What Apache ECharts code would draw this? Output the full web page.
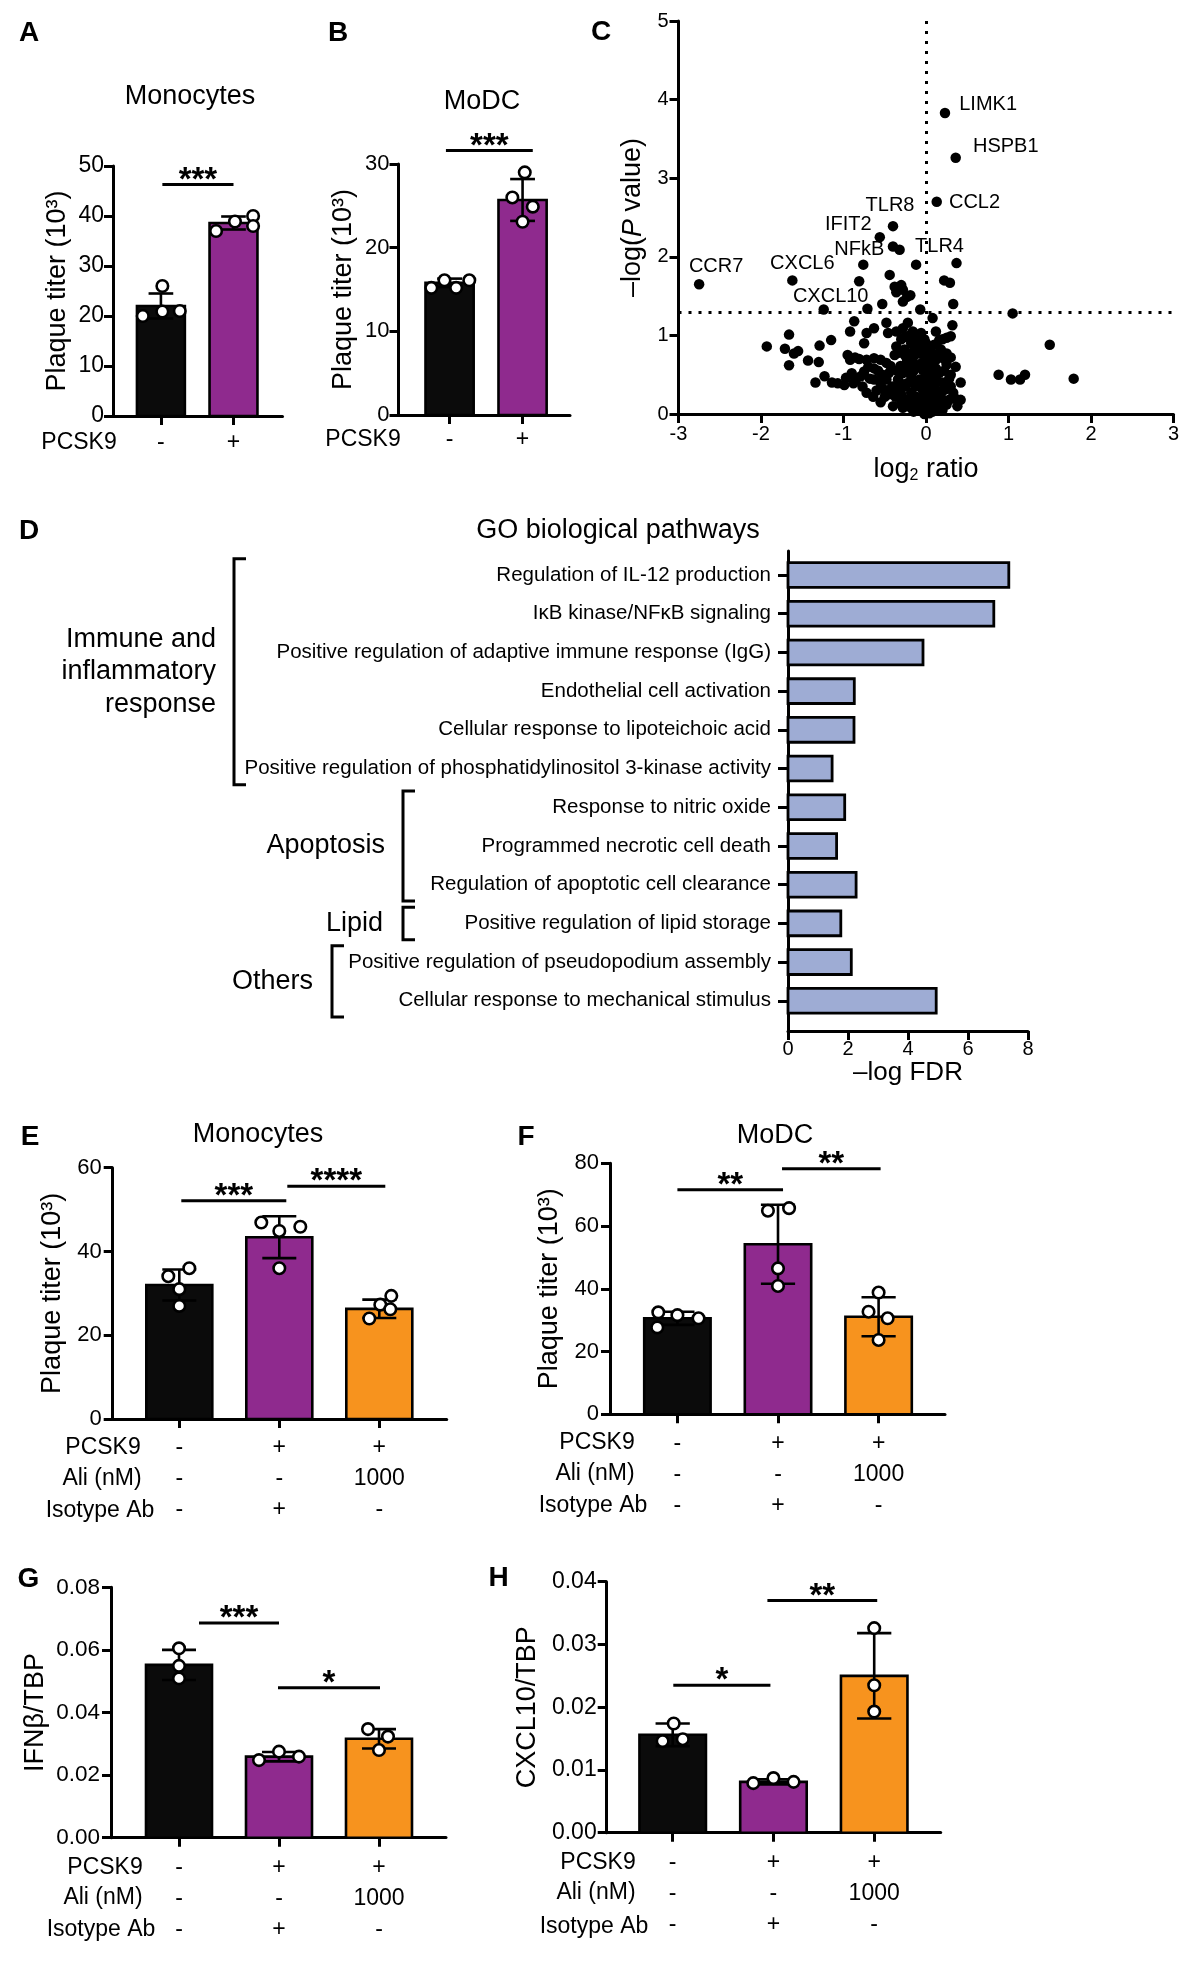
<!DOCTYPE html>
<html><head><meta charset="utf-8">
<script src="https://cdn.jsdelivr.net/npm/echarts@6/dist/echarts.min.js"></script>
<style>html,body{margin:0;padding:0;background:#fff}#c{width:1200px;height:1965px}</style>
</head><body><div id="c"></div>
<script>
// ================= DATA =================
// Row labels under the bar panels
const AB_PCSK9 = ['-', '+'];
const ROW_PCSK9 = ['-', '+', '+'];
const ROW_ALI = ['-', '-', '1000'];
const ROW_ISO = ['-', '+', '-'];

// Panel A - Monocytes plaque titer (10^3)
const A_means = [22.0, 38.6];
const A_sd = [2.5, 1.3];
const A_reps = [[20.0, 26.0, 20.9, 21.0], [37.0, 38.9, 40.0, 38.0]];
const A_sig = [[0.02, 1.0, 46.3, '***']];

// Panel B - MoDC plaque titer (10^3)
const B_means = [15.8, 25.7];
const B_sd = [0.5, 2.5];
const B_reps = [[15.2, 16.1, 15.2, 16.1], [29.0, 26.0, 24.9, 23.1]];
const B_sig = [[-0.05, 1.14, 31.6, '***']];

// Panel C - volcano plot (log2 ratio, -log P)
const C_log2 = [-0.40,-0.32,-0.12,-0.81,-0.44,-0.38,-0.30,-0.36,-0.28,-0.23,-0.28,-0.19,-0.53,-0.71,-0.07,0.22,0.29,0.33,
 1.05,0.08,0.32,-0.87,-0.92,-0.63,-0.72,-0.75,-0.48,-0.46,-0.36,-0.28,-0.22,-0.16,-0.06,0.12,0.16,0.25,0.30,-1.66,-1.93,-1.71,-1.55,-1.60,-1.29,-1.15,-1.66,-1.43,-1.30,-1.34,-1.23,-1.14,-1.07,-0.99,-0.88,-0.85,-0.86,-0.81,-0.72,-0.63,-0.55,-0.48,-0.38,-0.43,-0.75,-0.63,-0.53,-0.63,-0.72,-0.64,-0.50,-0.37,-0.77,-0.41,-0.34,-0.28,-0.36,-0.26,-0.18,-0.13,-0.08,-0.16,-0.23,-0.31,-0.21,-0.11,-0.04,-0.18,-0.08,-0.23,-0.13,-0.04,-0.18,-0.08,-0.01,-0.23,-0.28,-0.18,-0.08,-0.04,0.02,0.06,0.11,0.18,0.06,0.11,0.03,0.08,0.16,0.25,0.12,0.08,0.18,0.25,0.03,-0.01,0.23,0.33,0.35,0.42,0.42,0.28,0.18,0.88,1.03,1.14,1.20,1.50,1.79,-0.92,-0.90,-0.97,-0.79,-0.55,-0.48,-0.43,-0.34,
 -0.12,-0.02,0.05,-0.15,0.00,-0.10,-0.30,0.10,-0.26,0.14,-0.06,0.20,-0.20,0.30,0.36,
 -0.30,-0.20,-0.10,0.00,0.10,0.20,-0.33,-0.25,-0.15,-0.05,0.05,0.15,0.22,0.30,-0.35,-0.27,-0.15,-0.05,0.05,0.12,0.22,0.28,
 -0.32,-0.25,-0.15,-0.05,0.03,0.12,0.20,0.30,-0.30,-0.20,-0.12,-0.02,0.05,0.15,0.25,0.38,-0.10,0.00,0.04,-0.02,0.08,-0.15,0.12,0.20,
 -0.95,-0.70,-0.58,-0.45,-0.68,-0.52,-0.60,-0.45,-0.55,-0.40];
const C_logP = [2.13,2.09,1.90,1.69,1.77,1.62,1.64,1.55,1.58,1.49,1.43,1.51,1.40,1.34,1.33,1.70,1.67,1.40,
 1.28,1.22,1.13,1.18,1.05,1.09,1.03,0.90,1.16,1.03,1.05,1.09,1.16,1.05,1.03,1.05,0.94,0.97,0.99,1.01,0.86,0.83,0.80,0.77,0.87,0.94,0.62,0.68,0.66,0.40,0.48,0.40,0.39,0.37,0.39,0.44,0.72,0.70,0.69,0.71,0.69,0.65,0.75,0.61,0.54,0.58,0.50,0.44,0.27,0.22,0.22,0.22,0.35,0.35,0.44,0.52,0.86,0.82,0.90,0.86,0.77,0.71,0.67,0.61,0.56,0.61,0.56,0.48,0.44,0.39,0.35,0.31,0.27,0.20,0.14,0.18,0.08,0.08,0.06,0.03,0.02,0.08,0.12,0.09,0.18,0.27,0.35,0.44,0.52,0.63,0.69,0.77,0.82,0.77,0.84,0.73,0.31,0.27,0.20,0.18,0.40,0.18,0.22,0.50,0.44,0.44,0.50,0.88,0.45,0.69,0.52,0.46,0.48,0.39,0.44,0.31,0.31,
 0.95,0.95,0.60,0.15,0.50,0.62,0.25,0.35,0.98,0.10,0.10,0.40,0.62,0.50,0.60,
 0.95,1.00,0.92,0.90,0.88,0.95,0.78,0.74,0.80,0.82,0.70,0.75,0.70,0.72,0.55,0.60,0.55,0.65,0.52,0.58,0.55,0.45,
 0.40,0.35,0.42,0.38,0.42,0.45,0.30,0.35,0.15,0.12,0.22,0.25,0.28,0.18,0.12,0.10,0.04,0.06,0.01,0.00,0.03,0.03,0.05,0.05,
 0.75,0.60,0.55,0.52,0.45,0.32,0.30,0.25,0.15,0.10];
const C_genes = ['LIMK1','HSPB1','CCL2','TLR8','IFIT2','NFkB','TLR4','CCR7','CXCL6','CXCL10'];
const C_geneX = [0.23, 0.36, 0.13, -0.40, -0.56, -0.76, 0.37, -2.75, -1.62, -1.24];
const C_geneY = [3.83, 3.26, 2.70, 2.39, 2.25, 1.90, 1.92, 1.65, 1.70, 1.33];
const C_P_THRESHOLD = 1.3;

// Panel D - GO biological pathways
const D_pathways = ['Regulation of IL-12 production','IκB kinase/NFκB signaling','Positive regulation of adaptive immune response (IgG)','Endothelial cell activation','Cellular response to lipoteichoic acid','Positive regulation of phosphatidylinositol 3-kinase activity','Response to nitric oxide','Programmed necrotic cell death','Regulation of apoptotic cell clearance','Positive regulation of lipid storage','Positive regulation of pseudopodium assembly','Cellular response to mechanical stimulus'];
const D_logFDR = [7.36, 6.86, 4.50, 2.21, 2.20, 1.47, 1.89, 1.62, 2.27, 1.76, 2.11, 4.94];
const D_groupNames = ['Immune and\ninflammatory\nresponse', 'Apoptosis', 'Lipid', 'Others'];
const D_groupFrom = [0, 6, 9, 10];
const D_groupTo = [5, 8, 9, 11];

// Panel E - Monocytes
const E_means = [32.0, 43.4, 26.3];
const E_sd = [3.7, 5.0, 2.2];
const E_reps = [[34.1, 36.0, 31.0, 27.0], [46.9, 45.9, 44.9, 36.0], [24.0, 27.3, 29.4, 26.2]];
const E_sig = [[0.02, 1.07, 52.1, '***'], [1.08, 2.06, 55.6, '****']];

// Panel F - MoDC
const F_means = [30.6, 54.2, 31.1];
const F_sd = [2.1, 12.6, 6.2];
const F_reps = [[32.5, 31.6, 30.6, 27.7], [64.9, 65.7, 46.5, 40.9], [38.8, 32.7, 30.6, 23.7]];
const F_sig = [[0.0, 1.05, 71.6, '**'], [1.04, 2.02, 78.3, '**']];

// Panel G - IFNb/TBP
const G_means = [0.0552, 0.0259, 0.0316];
const G_sd = [0.0048, 0.0015, 0.0031];
const G_reps = [[0.0605, 0.0549, 0.0509], [0.0248, 0.0275, 0.0259], [0.0347, 0.0323, 0.0280]];
const G_sig = [[0.2, 1.0, 0.0686, '***'], [0.99, 2.01, 0.0479, '*']];

// Panel H - CXCL10/TBP
const H_means = [0.0156, 0.0081, 0.0250];
const H_sd = [0.0018, 0.0004, 0.0068];
const H_reps = [[0.0174, 0.0146, 0.0149], [0.0079, 0.0087, 0.0081], [0.0326, 0.0235, 0.0193]];
const H_sig = [[0.006, 0.97, 0.0235, '*'], [0.94, 2.03, 0.0370, '**']];

// ================= LAYOUT / STYLE =================
const FF = "'Liberation Sans', Arial, Helvetica, sans-serif";
const COLORS = ['#0b0b0b', '#8f2a8e', '#f7931e'];
const D_COLOR = '#9eacd4';
const JIT = {
  A: [[-0.25, 0.02, 0.02, 0.26], [-0.24, 0.02, 0.27, 0.27]],
  B: [[-0.25, -0.07, 0.09, 0.27], [0.03, -0.14, 0.14, 0]],
  E: [[-0.11, 0.10, 0, 0], [-0.18, 0.21, 0, 0], [-0.1, 0.01, 0.12, 0.11]],
  F: [[-0.19, 0, 0.21, -0.2], [-0.1, 0.11, 0, 0], [0, -0.1, 0.09, 0]],
  G: [[0, 0, 0], [-0.2, 0, 0.2], [-0.11, 0.09, 0]],
  H: [[0.01, -0.1, 0.1], [-0.2, 0, 0.2], [0, 0, 0]]
};
const C_LABEL_POS = {LIMK1:['right',[4,-8]], HSPB1:['right',[7,-11]], CCL2:['right',[2,1]], TLR8:['top',[-3,0]], IFIT2:['left',[2,-13]], NFkB:['top',[-4,5]], TLR4:['top',[-17,4]], CCR7:['top',[17,2]], CXCL6:['top',[10,3]], CXCL10:['top',[7,7]]};
const D_BRACKET_X = [234, 403, 403, 332];
const D_LABEL_RIGHT = [216, 385, 383, 313];

const GRIDS = [
  {left:113, top:166, width:169.5, height:250},      // A
  {left:398.5, top:164, width:171.5, height:251},    // B
  {left:678.5, top:21, width:495, height:393},       // C
  {left:788, top:551, width:240, height:480},        // D
  {left:112.7, top:1167.7, width:334, height:251.3}, // E
  {left:610, top:1163.3, width:335, height:251},     // F
  {left:111, top:1587.3, width:335, height:250.4},   // G
  {left:606.7, top:1581.7, width:334, height:251}    // H
].map(g => Object.assign({containLabel:false, outerBoundsMode:'none'}, g));

const AXLINE = {show:true, onZero:false, lineStyle:{color:'#000', width:3}};
const AXTICK = (len) => ({show:true, length:len, lineStyle:{color:'#000', width:3}});

function idx(n){ return Array.from({length:n}, (_, i) => i); }

function barX(gi, min, max, n, rows, margin){
  return {gridIndex:gi, type:'value', min, max, position:'bottom',
    axisLine:AXLINE, splitLine:{show:false},
    axisTick:Object.assign(AXTICK(9), {customValues:idx(n)}),
    axisLabel:{show:true, customValues:idx(n), margin, fontSize:23, lineHeight:31, color:'#000', fontFamily:FF,
      formatter:(v) => rows.map(r => r[Math.round(v)]).join('\n')}};
}
function barY(gi, max, interval, fs, name, gap, margin, fmt){
  return {gridIndex:gi, type:'value', min:0, max, interval, position:'left',
    axisLine:AXLINE, axisTick:AXTICK(9), splitLine:{show:false},
    axisLabel:{fontSize:fs, color:'#000', fontFamily:FF, margin, formatter: fmt || (v => String(v))},
    name, nameLocation:'middle', nameRotate:90, nameGap:gap,
    nameTextStyle:{fontSize:27, color:'#000', fontFamily:FF}};
}

function barSeries(gi, means, sds, reps, jit, sig){
  const HW = 0.33, CAP = 0.17;
  const dots = [];
  reps.forEach((arr, i) => arr.forEach((v, j) => dots.push([i + jit[i][j], v])));
  return [
    {type:'custom', xAxisIndex:gi, yAxisIndex:gi, clip:false, silent:true,
      data: means.map((m, i) => [i, m]),
      renderItem:(p, api) => {
        const i = api.value(0), v = api.value(1);
        const a = api.coord([i - HW, v]), b = api.coord([i + HW, 0]);
        return {type:'rect', shape:{x:a[0], y:a[1], width:b[0]-a[0], height:b[1]-a[1]},
          style:{fill:COLORS[p.dataIndex], stroke:'#000', lineWidth:2.6}};
      }},
    {type:'custom', xAxisIndex:gi, yAxisIndex:gi, clip:false, silent:true,
      data: means.map((m, i) => [i, m, sds[i]]),
      renderItem:(p, api) => {
        const i = api.value(0), m = api.value(1), s = api.value(2);
        const t = api.coord([i, m + s]), bt = api.coord([i, m - s]);
        const tl = api.coord([i - CAP, m + s]), tr = api.coord([i + CAP, m + s]);
        const bl = api.coord([i - CAP, m - s]), br = api.coord([i + CAP, m - s]);
        const st = {stroke:'#000', lineWidth:2.6};
        return {type:'group', children:[
          {type:'line', shape:{x1:t[0], y1:t[1], x2:bt[0], y2:bt[1]}, style:st},
          {type:'line', shape:{x1:tl[0], y1:tl[1], x2:tr[0], y2:tr[1]}, style:st},
          {type:'line', shape:{x1:bl[0], y1:bl[1], x2:br[0], y2:br[1]}, style:st}
        ]};
      }},
    {type:'scatter', xAxisIndex:gi, yAxisIndex:gi, silent:true, data:dots, symbol:'circle', symbolSize:11.5,
      itemStyle:{color:'#fff', borderColor:'#000', borderWidth:2.6, opacity:1}},
    {type:'custom', xAxisIndex:gi, yAxisIndex:gi, clip:false, silent:true,
      data: sig.map(s => [s[0], s[2], s[1]]),
      renderItem:(p, api) => {
        const s = sig[p.dataIndex];
        const a = api.coord([s[0], s[2]]), b = api.coord([s[1], s[2]]);
        return {type:'group', children:[
          {type:'line', shape:{x1:a[0], y1:a[1], x2:b[0], y2:b[1]}, style:{stroke:'#000', lineWidth:3}},
          {type:'text', x:(a[0] + b[0]) / 2, y:a[1] - 4,
            style:{text:s[3], font:'bold 33px ' + FF, fill:'#000', align:'center', verticalAlign:'middle', textAlign:'center', textVerticalAlign:'middle'}}
        ]};
      }}
  ];
}

// ================= TEXT ITEMS (panel letters, titles, row headers) =================
const TEXTS = [
  ['A', 29, 33, 'bold 28px'], ['B', 338, 33, 'bold 28px'], ['C', 601, 32, 'bold 28px'], ['D', 29, 531, 'bold 28px'],
  ['E', 30, 1137, 'bold 28px'], ['F', 526, 1137, 'bold 28px'], ['G', 28.5, 1579, 'bold 28px'], ['H', 498.5, 1578, 'bold 28px'],
  ['Monocytes', 190, 97, '27px'], ['MoDC', 482, 102, '27px'], ['GO biological pathways', 618, 531, '27px'],
  ['Monocytes', 258, 1135, '27px'], ['MoDC', 775, 1136, '27px'],
  ['PCSK9', 79, 443, '23px'], ['PCSK9', 363, 440, '23px'],
  ['PCSK9', 103, 1448, '23px'], ['Ali (nM)', 102, 1479, '23px'], ['Isotype Ab', 100, 1511, '23px'],
  ['PCSK9', 597, 1443, '23px'], ['Ali (nM)', 595, 1474, '23px'], ['Isotype Ab', 593, 1506, '23px'],
  ['PCSK9', 105, 1868, '23px'], ['Ali (nM)', 103, 1898, '23px'], ['Isotype Ab', 101, 1930, '23px'],
  ['PCSK9', 598, 1863, '23px'], ['Ali (nM)', 596, 1893, '23px'], ['Isotype Ab', 594, 1927, '23px']
];

// ================= OPTION =================
const xAxis = [
  barX(0, -0.66, 1.675, 2, [AB_PCSK9], 11.5),
  barX(1, -0.70, 1.65, 2, [AB_PCSK9], 9.5),
  {gridIndex:2, type:'value', min:-3, max:3, interval:1, position:'bottom',
    axisLine:AXLINE, axisTick:AXTICK(9), splitLine:{show:false},
    axisLabel:{fontSize:20, color:'#000', fontFamily:FF, margin:10},
    name:'log{sub|2} ratio', nameLocation:'middle', nameGap:41,
    nameTextStyle:{fontSize:27, color:'#000', fontFamily:FF,
      rich:{sub:{fontSize:16, color:'#000', fontFamily:FF, verticalAlign:'bottom', padding:[13,0,0,0]}}}},
  {gridIndex:3, type:'value', min:0, max:8, interval:2, position:'bottom',
    axisLine:AXLINE, axisTick:AXTICK(9), splitLine:{show:false},
    axisLabel:{fontSize:20, color:'#000', fontFamily:FF, margin:8},
    name:'–log FDR', nameLocation:'middle', nameGap:29,
    nameTextStyle:{fontSize:26, color:'#000', fontFamily:FF}},
  barX(4, -0.666, 2.674, 3, [ROW_PCSK9, ROW_ALI, ROW_ISO], 13.5),
  barX(5, -0.67, 2.66, 3, [ROW_PCSK9, ROW_ALI, ROW_ISO], 13.5),
  barX(6, -0.68, 2.67, 3, [ROW_PCSK9, ROW_ALI, ROW_ISO], 14.5),
  barX(7, -0.655, 2.66, 3, [ROW_PCSK9, ROW_ALI, ROW_ISO], 14.5)
];
const yAxis = [
  barY(0, 50, 10, 23, 'Plaque titer (10³)', 42, 9),
  barY(1, 30, 10, 22, 'Plaque titer (10³)', 41, 9),
  {gridIndex:2, type:'value', min:0, max:5, interval:1, position:'left',
    axisLine:AXLINE, axisTick:AXTICK(9), splitLine:{show:false},
    axisLabel:{fontSize:20, color:'#000', fontFamily:FF, margin:10},
    name:'–log({it|P} value)', nameLocation:'middle', nameRotate:90, nameGap:32,
    nameTextStyle:{fontSize:27, color:'#000', fontFamily:FF,
      rich:{it:{fontSize:27, fontStyle:'italic', color:'#000', fontFamily:FF}}}},
  {gridIndex:3, type:'value', inverse:true, min:-0.62, max:11.78, position:'left',
    axisLine:AXLINE, splitLine:{show:false},
    axisTick:Object.assign(AXTICK(10), {customValues:idx(D_pathways.length)}),
    axisLabel:{customValues:idx(D_pathways.length), fontSize:20.5, color:'#000', fontFamily:FF, margin:17,
      formatter:(v) => D_pathways[Math.round(v)]}},
  barY(4, 60, 20, 22, 'Plaque titer (10³)', 47, 11),
  barY(5, 80, 20, 22, 'Plaque titer (10³)', 47, 11),
  barY(6, 0.08, 0.02, 22.5, 'IFNβ/TBP', 62, 11, v => v.toFixed(2)),
  barY(7, 0.04, 0.01, 23, 'CXCL10/TBP', 66, 10, v => v.toFixed(2))
];

const series = [].concat(
  barSeries(0, A_means, A_sd, A_reps, JIT.A, A_sig),
  barSeries(1, B_means, B_sd, B_reps, JIT.B, B_sig),
  barSeries(4, E_means, E_sd, E_reps, JIT.E, E_sig),
  barSeries(5, F_means, F_sd, F_reps, JIT.F, F_sig),
  barSeries(6, G_means, G_sd, G_reps, JIT.G, G_sig),
  barSeries(7, H_means, H_sd, H_reps, JIT.H, H_sig),
  [
    {type:'scatter', xAxisIndex:2, yAxisIndex:2, silent:true, symbolSize:10.5,
      itemStyle:{color:'#000', opacity:1},
      data: C_log2.map((x, i) => [x, C_logP[i]]),
      markLine:{silent:true, symbol:['none','none'], label:{show:false}, animation:false,
        lineStyle:{color:'#000', width:3, type:[3,7]},
        data:[{xAxis:0}, {yAxis:C_P_THRESHOLD}]}},
    {type:'scatter', xAxisIndex:2, yAxisIndex:2, silent:true, symbolSize:10.5,
      itemStyle:{color:'#000', opacity:1},
      data: C_genes.map((g, i) => ({name:g, value:[C_geneX[i], C_geneY[i]],
        label:{show:true, formatter:g, position:C_LABEL_POS[g][0], offset:C_LABEL_POS[g][1],
          fontSize:20, color:'#000', fontFamily:FF}}))},
    {type:'custom', xAxisIndex:3, yAxisIndex:3, clip:false, silent:true,
      data: D_logFDR.map((v, i) => [v, i]),
      renderItem:(p, api) => {
        const v = api.value(0), i = api.value(1);
        const a = api.coord([0, i - 0.32]), b = api.coord([v, i + 0.32]);
        return {type:'rect', shape:{x:a[0], y:a[1], width:b[0]-a[0], height:b[1]-a[1]},
          style:{fill:D_COLOR, stroke:'#000', lineWidth:2.8}};
      }},
    {type:'custom', xAxisIndex:3, yAxisIndex:3, clip:false, silent:true,
      data: D_groupFrom.map((f, k) => [0, f]),
      renderItem:(p, api) => {
        const k = p.dataIndex;
        const yTop = api.coord([0, D_groupFrom[k] - 0.42])[1];
        const yBot = api.coord([0, D_groupTo[k] + 0.42])[1];
        const x = D_BRACKET_X[k];
        return {type:'group', children:[
          {type:'polyline', shape:{points:[[x + 12, yTop], [x, yTop], [x, yBot], [x + 12, yBot]]},
            style:{stroke:'#000', lineWidth:3, fill:'none'}},
          {type:'text', x:D_LABEL_RIGHT[k], y:(yTop + yBot) / 2,
            style:{text:D_groupNames[k], font:'27px ' + FF, fill:'#000', lineHeight:32.5,
              align:'right', verticalAlign:'middle', textAlign:'right', textVerticalAlign:'middle'}}
        ]};
      }}
  ]
);

const graphic = TEXTS.map(t => ({type:'text', x:t[1], y:t[2], silent:true,
  style:{text:t[0], font:t[3] + ' ' + FF, fill:'#000', align:'center', verticalAlign:'middle', textAlign:'center', textVerticalAlign:'middle'}}));

const chart = echarts.init(document.getElementById('c'), null, {renderer:'canvas', width:1200, height:1965});
chart.setOption({
  backgroundColor:'#fff', animation:false,
  textStyle:{fontFamily:FF, color:'#000'},
  grid:GRIDS, xAxis, yAxis, series, graphic
});
</script>
</body></html>
